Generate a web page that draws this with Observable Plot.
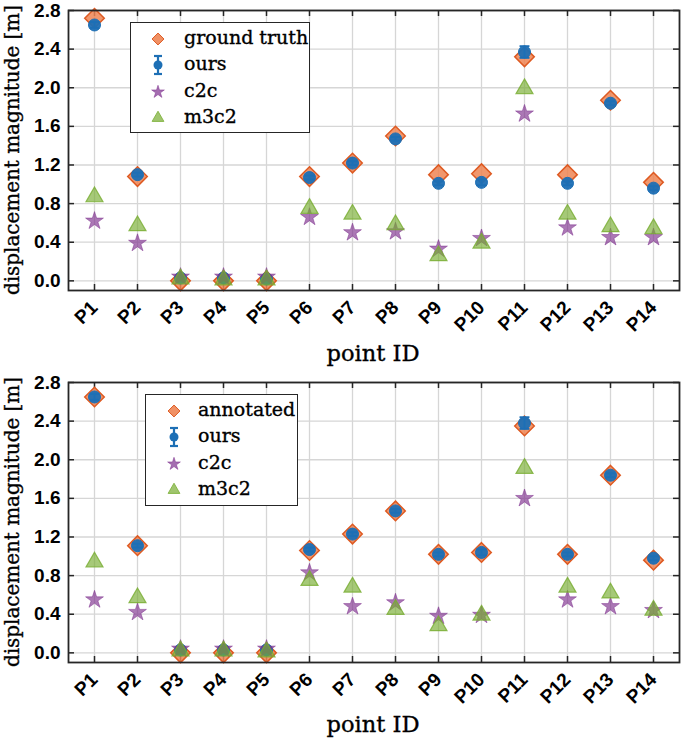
<!DOCTYPE html>
<html>
<head>
<meta charset="utf-8">
<script src="https://cdn.jsdelivr.net/npm/d3@7"></script>
<script src="https://cdn.jsdelivr.net/npm/@observablehq/plot@0.6"></script>
<style>
  html, body { margin: 0; padding: 0; background: #fff; }
  #root { position: relative; width: 685px; height: 742px; }
  .panel { position: relative; width: 685px; height: 371px; }
  .panel > svg { display: block; }
  .overlay { position: absolute; left: 0; top: 0; pointer-events: none; }
  .overlay text.title { font-family: "DejaVu Serif", serif; fill: #000; stroke: #000; stroke-width: 0.35px; }
  .legend { position: absolute; background: #fff; border: 1.5px solid #262626; box-sizing: border-box;
    font-family: "DejaVu Serif", serif; font-size: 19px; color: #000; -webkit-text-stroke: 0.35px #000; }
  .legend .row { position: absolute; left: 0; height: 24px; line-height: 24px; white-space: nowrap; }
  .legend svg { position: absolute; }
</style>
</head>
<body>
<div id="root"></div>
<script>
// ---- data ----
const ids = ["P1","P2","P3","P4","P5","P6","P7","P8","P9","P10","P11","P12","P13","P14"];
const yTicks = [0, 0.4, 0.8, 1.2, 1.6, 2.0, 2.4, 2.8];
const xTitle = "point ID";
const yTitle = "displacement magnitude [m]";

// top panel
const gtTop    = [2.72, 1.08, 0.00, 0.00, 0.00, 1.08, 1.22, 1.50, 1.10, 1.11, 2.32, 1.10, 1.87, 1.02];
const oursTop  = [2.65, 1.10, 0.03, 0.03, 0.02, 1.07, 1.22, 1.47, 1.01, 1.02, 2.37, 1.01, 1.84, 0.96];
const errTop   = [0.03, 0.02, 0.01, 0.01, 0.01, 0.02, 0.02, 0.02, 0.02, 0.03, 0.06, 0.02, 0.02, 0.02];
const c2cTop   = [0.62, 0.39, 0.04, 0.04, 0.04, 0.66, 0.50, 0.51, 0.33, 0.44, 1.73, 0.55, 0.45, 0.45];
const m3c2Top  = [0.87, 0.57, 0.02, 0.01, 0.01, 0.75, 0.69, 0.58, 0.26, 0.39, 1.99, 0.69, 0.56, 0.54];

// bottom panel
const gtBot    = [2.65, 1.11, 0.00, 0.00, 0.00, 1.06, 1.23, 1.47, 1.02, 1.04, 2.35, 1.02, 1.84, 0.96];
const oursBot  = [2.65, 1.11, 0.03, 0.03, 0.03, 1.07, 1.23, 1.47, 1.02, 1.04, 2.38, 1.02, 1.84, 0.98];
const errBot   = [0.03, 0.02, 0.01, 0.01, 0.01, 0.02, 0.02, 0.02, 0.02, 0.03, 0.06, 0.02, 0.02, 0.02];
const c2cBot   = [0.55, 0.42, 0.04, 0.04, 0.04, 0.83, 0.48, 0.52, 0.38, 0.39, 1.60, 0.55, 0.48, 0.44];
const m3c2Bot  = [0.94, 0.57, 0.02, 0.02, 0.01, 0.75, 0.68, 0.45, 0.28, 0.39, 1.91, 0.68, 0.62, 0.44];

const legendTop = ["ground truth", "ours", "c2c", "m3c2"];
const legendBot = ["annotated", "ours", "c2c", "m3c2"];

// ---- styles ----
const C = {
  gtFill: "#EE8554", gtStroke: "#DE5A22",
  ours: "#1D6FB5",
  c2c: "#7E2F8E",
  m3c2: "#77AC30"
};
const W = 685, H = 371, ML = 68, MR = 6;

const capSymbol = { draw(ctx, size) { const w = Math.sqrt(size); ctx.moveTo(-w, 0); ctx.lineTo(w, 0); } };

function panel(gt, ours, err, c2c, m3c2, mt, mb) {
  const ph = H - mt - mb, pw = W - ML - MR;
  const data = ids.map((id, i) => ({id, gt: gt[i], ours: ours[i], lo: ours[i] - err[i], hi: ours[i] + err[i], c2c: c2c[i], m3c2: m3c2[i]}));
  return Plot.plot({
    width: W, height: H,
    marginTop: mt, marginBottom: mb, marginLeft: ML, marginRight: MR,
    x: {type: "point", domain: ids, padding: 0.5},
    y: {domain: [-0.1, 2.8]},
    style: {fontFamily: "Liberation Sans, Arial, sans-serif", fontSize: "19px", color: "#000", background: "#fff"},
    marks: [
      Plot.gridX(ids, {stroke: "#d6d6d6", strokeOpacity: 1, strokeWidth: 1.3}),
      Plot.gridY(yTicks, {stroke: "#d6d6d6", strokeOpacity: 1, strokeWidth: 1.3}),
      // inward ticks on all four sides
      Plot.tickX(ids, {x: d => d, insetTop: ph - 6, stroke: "#262626", strokeWidth: 1.5}),
      Plot.tickX(ids, {x: d => d, insetBottom: ph - 6, stroke: "#262626", strokeWidth: 1.5}),
      Plot.tickY(yTicks, {y: d => d, insetRight: pw - 6, stroke: "#262626", strokeWidth: 1.5}),
      Plot.tickY(yTicks, {y: d => d, insetLeft: pw - 6, stroke: "#262626", strokeWidth: 1.5}),
      Plot.axisX({ticks: ids, tickSize: 0, tickRotate: -45, tickPadding: 14, fontWeight: "bold", label: null}),
      Plot.axisY({ticks: yTicks, tickFormat: ".1f", tickSize: 0, tickPadding: 8, fontWeight: "bold", label: null}),
      // series
      Plot.dot(data, {x: "id", y: "gt", symbol: "diamond2", r: 8.8, fill: C.gtFill, fillOpacity: 0.85, stroke: C.gtStroke, strokeWidth: 1.5}),
      Plot.ruleX(data, {x: "id", y1: "lo", y2: "hi", stroke: C.ours, strokeWidth: 2}),
      Plot.dot(data, {x: "id", y: "lo", symbol: capSymbol, r: 2.8, stroke: C.ours, strokeWidth: 2, fill: "none"}),
      Plot.dot(data, {x: "id", y: "hi", symbol: capSymbol, r: 2.8, stroke: C.ours, strokeWidth: 2, fill: "none"}),
      Plot.dot(data, {x: "id", y: "ours", symbol: "circle", r: 6, fill: C.ours, fillOpacity: 0.95, stroke: C.ours, strokeWidth: 1}),
      Plot.dot(data, {x: "id", y: "c2c", symbol: "star", r: 5.6, fill: C.c2c, fillOpacity: 0.65, stroke: C.c2c, strokeOpacity: 0.5, strokeWidth: 1}),
      Plot.dot(data, {x: "id", y: "m3c2", symbol: "triangle", r: 6.3, fill: C.m3c2, fillOpacity: 0.65, stroke: C.m3c2, strokeOpacity: 0.8, strokeWidth: 1.2}),
      Plot.frame({stroke: "#262626", strokeWidth: 1.8})
    ]
  });
}

function legend(labels, box, rows, markerX, textX) {
  const div = document.createElement("div");
  div.className = "legend";
  Object.assign(div.style, {left: box[0] + "px", top: box[1] + "px", width: box[2] + "px", height: box[3] + "px"});
  const sym = (type, size) => d3.symbol().type(type).size(size)();
  const markers = [
    `<path d="${sym(d3.symbolDiamond2, 90)}" fill="${C.gtFill}" fill-opacity="0.9" stroke="${C.gtStroke}" stroke-width="1"/>`,
    `<line x1="0" x2="0" y1="-9" y2="9" stroke="${C.ours}" stroke-width="2.2"/>
     <line x1="-4" x2="4" y1="-9" y2="-9" stroke="${C.ours}" stroke-width="2.2"/>
     <line x1="-4" x2="4" y1="9" y2="9" stroke="${C.ours}" stroke-width="2.2"/>
     <circle r="4.5" fill="${C.ours}"/>`,
    `<path d="${sym(d3.symbolStar, 50)}" fill="${C.c2c}" fill-opacity="0.7" stroke="${C.c2c}" stroke-opacity="0.5"/>`,
    `<path d="${sym(d3.symbolTriangle, 60)}" fill="${C.m3c2}" fill-opacity="0.7" stroke="${C.m3c2}" stroke-opacity="0.8"/>`
  ];
  labels.forEach((lab, i) => {
    const cy = rows[i] - box[1];
    const s = document.createElementNS("http://www.w3.org/2000/svg", "svg");
    s.setAttribute("width", 24); s.setAttribute("height", 24);
    s.setAttribute("viewBox", "-12 -12 24 24");
    s.style.left = (markerX - box[0] - 12) + "px";
    s.style.top = (cy - 12) + "px";
    s.innerHTML = markers[i];
    div.appendChild(s);
    const t = document.createElement("div");
    t.className = "row";
    t.style.left = (textX - box[0]) + "px";
    t.style.top = (cy - 14) + "px";
    t.textContent = lab;
    div.appendChild(t);
  });
  return div;
}

const root = document.getElementById("root");
const p1 = document.createElement("div"); p1.className = "panel";
p1.appendChild(panel(gtTop, oursTop, errTop, c2cTop, m3c2Top, 10, 81));
p1.appendChild(legend(legendTop, [130, 22, 180, 111], [37.5, 64, 90.5, 117], 157, 183));
root.appendChild(p1);

const p2 = document.createElement("div"); p2.className = "panel";
p2.appendChild(panel(gtBot, oursBot, errBot, c2cBot, m3c2Bot, 11, 80));
p2.appendChild(legend(legendBot, [145, 23, 153, 112], [38.5, 65, 91.5, 118], 173, 197));
root.appendChild(p2);

// serif axis titles
const NS = "http://www.w3.org/2000/svg";
const ov = document.createElementNS(NS, "svg");
ov.setAttribute("class", "overlay");
ov.setAttribute("width", 685); ov.setAttribute("height", 742);
function addText(str, x, y, rot, size, len) {
  const t = document.createElementNS(NS, "text");
  t.setAttribute("class", "title");
  t.setAttribute("transform", `translate(${x},${y}) rotate(${rot})`);
  t.setAttribute("text-anchor", "middle");
  t.setAttribute("font-size", size);
  t.setAttribute("textLength", len);
  t.setAttribute("lengthAdjust", "spacingAndGlyphs");
  t.textContent = str;
  ov.appendChild(t);
}
[[0, 10, 81], [371, 11, 80]].forEach(([off, mt, mb]) => {
  addText(yTitle, 19, off + (mt + H - mb) / 2, -90, 20, 290);
  addText(xTitle, 373, off + 361, 0, 22, 93);
});
root.appendChild(ov);
</script>
</body>
</html>
